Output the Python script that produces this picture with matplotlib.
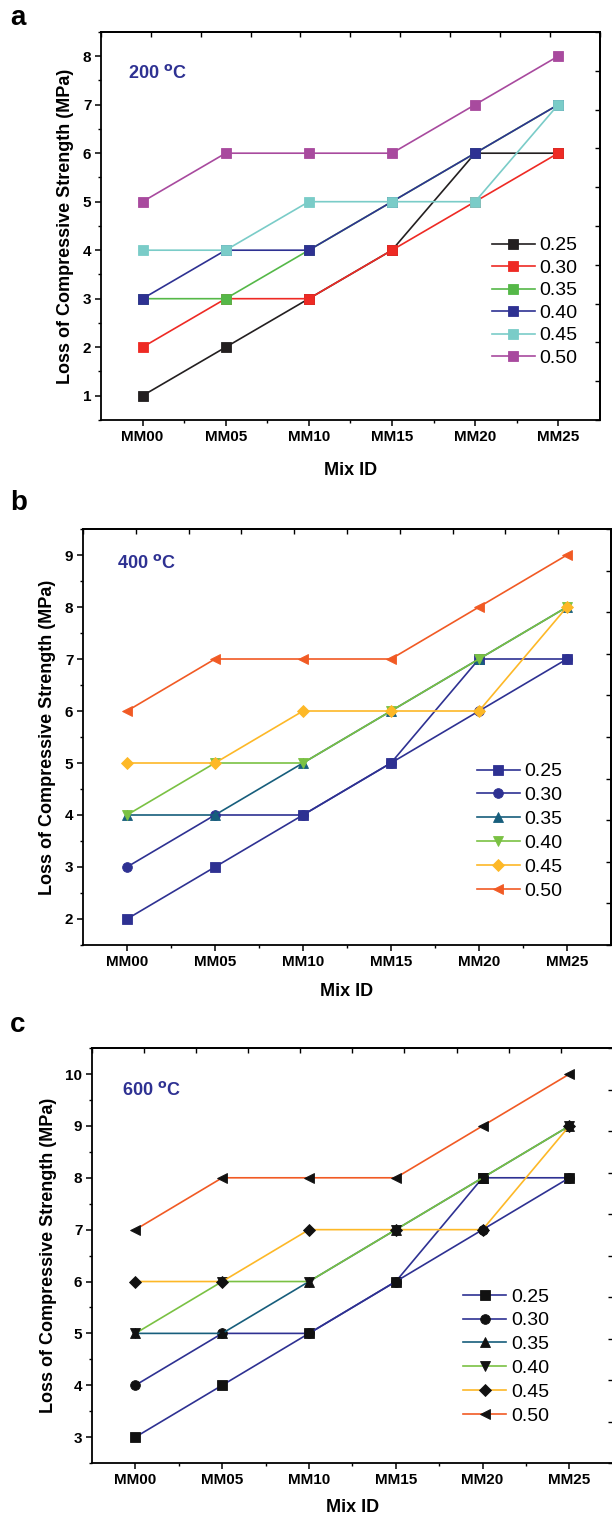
import matplotlib
matplotlib.use('Agg')
import matplotlib.pyplot as plt
import numpy as np

plt.rcParams['font.family'] = ['Liberation Sans', 'DejaVu Sans']

mix_ids = ['MM00', 'MM05', 'MM10', 'MM15', 'MM20', 'MM25']
ratios = ['0.25', '0.30', '0.35', '0.40', '0.45', '0.50']

# loss of compressive strength (MPa), one row per w/b ratio
loss_200 = [[1, 2, 3, 4, 6, 6],
            [2, 3, 3, 4, 5, 6],
            [3, 3, 4, 5, 6, 7],
            [3, 4, 4, 5, 6, 7],
            [4, 4, 5, 5, 5, 7],
            [5, 6, 6, 6, 7, 8]]
loss_400 = [[2, 3, 4, 5, 7, 7],
            [3, 4, 4, 5, 6, 7],
            [4, 4, 5, 6, 7, 8],
            [4, 5, 5, 6, 7, 8],
            [5, 5, 6, 6, 6, 8],
            [6, 7, 7, 7, 8, 9]]
loss_600 = [[3, 4, 5, 6, 8, 8],
            [4, 5, 5, 6, 7, 8],
            [5, 5, 6, 7, 8, 9],
            [5, 6, 6, 7, 8, 9],
            [6, 6, 7, 7, 7, 9],
            [7, 8, 8, 8, 9, 10]]

colors_a = ['#231F20', '#EE2A24', '#55B848', '#2E3192', '#7ACCC8', '#A84A9E']
colors_bc = ['#2E3192', '#2E3192', '#175E7C', '#7AC143', '#FDB827', '#F15A24']
markers_a = ['s', 's', 's', 's', 's', 's']
markers_bc = ['s', 'o', '^', 'v', 'D', '<']
TEXT_BLUE = '#2E3192'


def my_plot(ax, data, colors, markers, marker_colors, temp_text, ylim, yticks,
            text_pos, leg_pos, leg_spacing, ms, xpad):
    x = np.arange(len(mix_ids))
    for i in range(len(data)):
        msize = ms - 1 if markers[i] == 'D' else ms
        mc = marker_colors[i] if marker_colors is not None else colors[i]
        ax.plot(x, data[i], color=colors[i], lw=1.2, marker=markers[i],
                ms=msize, mfc=mc, mec=mc, mew=0.6, label=ratios[i])

    ax.set_xlim(-0.5, 5.5)
    ax.set_xticks(x)
    ax.set_xticklabels(mix_ids, fontsize=11, fontweight='bold')
    ax.set_xticks(x[:-1] + 0.5, minor=True)
    ax.set_yticks(yticks)
    ax.set_yticklabels([str(v) for v in yticks], fontsize=11, fontweight='bold')
    ax.set_yticks(np.arange(ylim[0], ylim[1] + 0.01, 1.0), minor=True)
    ax.set_ylim(ylim)
    ax.tick_params(which='major', direction='out', length=4, width=1.1, pad=3)
    ax.tick_params(which='minor', direction='out', length=2.5, width=1.0)
    for s in ax.spines.values():
        s.set_linewidth(1.3)

    # mirrored ticks on top and right, as in the original software
    top = ax.secondary_xaxis('top')
    top.set_xticks(np.linspace(-0.5, 5.5, 11))
    top.set_xticklabels([])
    top.tick_params(direction='in', length=3.5, width=1.0)
    top.spines['top'].set_linewidth(1.3)
    right = ax.secondary_yaxis('right')
    right.set_yticks(np.linspace(ylim[0], ylim[1], 11))
    right.set_yticklabels([])
    right.tick_params(direction='in', length=3.5, width=1.0)
    right.spines['right'].set_linewidth(1.3)

    ax.set_xlabel('Mix ID', fontsize=13, fontweight='bold', labelpad=xpad)
    ax.set_ylabel('Loss of Compressive Strength (MPa)', fontsize=13,
                  fontweight='bold', labelpad=6)
    ax.text(text_pos[0], text_pos[1], temp_text, transform=ax.transAxes,
            color=TEXT_BLUE, fontsize=13, fontweight='bold', va='center')
    ax.legend(loc='upper left', bbox_to_anchor=leg_pos, frameon=False,
              fontsize=14, handlelength=2.2, handletextpad=0.25,
              labelspacing=leg_spacing, borderpad=0, borderaxespad=0)


fig = plt.figure(figsize=(6.12, 15.21), dpi=100)

ax_a = fig.add_axes([0.165, 0.7239, 0.815, 0.2551])
my_plot(ax_a, loss_200, colors_a, markers_a, None, r'200 $^{\mathbf{o}}$C',
        (0.5, 8.5), [1, 2, 3, 4, 5, 6, 7, 8], (0.054, 0.894), (0.784, 0.472), 0.25, 6.5, 13)

ax_b = fig.add_axes([0.1356, 0.3787, 0.8627, 0.2735])
my_plot(ax_b, loss_400, colors_bc, markers_bc, None, r'400 $^{\mathbf{o}}$C',
        (1.5, 9.5), [2, 3, 4, 5, 6, 7, 8, 9], (0.064, 0.918), (0.746, 0.438), 0.32, 7, 10)

ax_c = fig.add_axes([0.1503, 0.0381, 0.851, 0.2728])
my_plot(ax_c, loss_600, colors_bc, markers_bc, ['#111111'] * 6, r'600 $^{\mathbf{o}}$C',
        (2.5, 10.5), [3, 4, 5, 6, 7, 8, 9, 10], (0.058, 0.899), (0.713, 0.422), 0.32, 7, 9)

fig.text(0.016, 0.988, 'a', fontsize=20, fontweight='bold', va='center')
fig.text(0.016, 0.669, 'b', fontsize=20, fontweight='bold', va='center')
fig.text(0.016, 0.326, 'c', fontsize=20, fontweight='bold', va='center')

fig.savefig('out.png', dpi=100)
